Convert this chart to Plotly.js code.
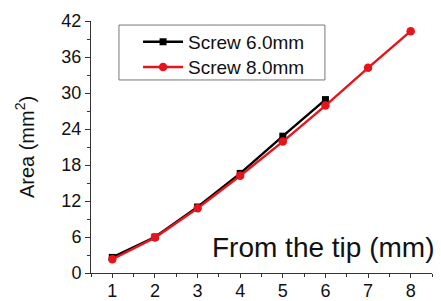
<!DOCTYPE html>
<html>
<head>
<meta charset="utf-8">
<script src="https://cdn.plot.ly/plotly-3.0.1.min.js"></script>
<style>html,body{margin:0;padding:0;background:#fff;}#chart{width:441px;height:301px;}</style>
</head>
<body>
<div id="chart"></div>
<script>
const positions6 = [1, 2, 3, 4, 5, 6];
const screw6 = [2.6, 6.0, 11.0, 16.6, 22.8, 28.9];
const positions8 = [1, 2, 3, 4, 5, 6, 7, 8];
const screw8 = [2.3, 5.9, 10.8, 16.2, 21.9, 27.9, 34.2, 40.3];
const seriesNames = ["Screw 6.0mm", "Screw 8.0mm"];
const yTicks = [0, 6, 12, 18, 24, 30, 36, 42];
const xTicks = [1, 2, 3, 4, 5, 6, 7, 8];

const font = "Arial, 'Liberation Sans', sans-serif";
const traces = [
  {x: positions6, y: screw6, name: seriesNames[0], mode: "lines+markers", legend: "legend",
   line: {color: "#000000", width: 2.4}, marker: {symbol: "square", size: 7, color: "#000000"}},
  {x: positions8, y: screw8, name: seriesNames[1], mode: "lines+markers", legend: "legend2",
   line: {color: "#e8141b", width: 2.4}, marker: {symbol: "circle", size: 8.5, color: "#e8141b"}}
];
const axisCommon = {showgrid: false, zeroline: false, showline: true, linecolor: "#333", linewidth: 1,
  ticks: "outside", ticklen: 5, tickcolor: "#333", tickfont: {family: font, size: 18, color: "#111"}};
const legendCommon = {x: 0.138, xanchor: "left", yanchor: "middle", bgcolor: "rgba(255,255,255,0)",
  borderwidth: 0, font: {family: font, size: 19, color: "#111"}, itemwidth: 40};
const layout = {
  width: 441, height: 301,
  margin: {l: 91, r: 9, t: 21, b: 28},
  paper_bgcolor: "#fff", plot_bgcolor: "#fff",
  showlegend: true,
  legend: Object.assign({}, legendCommon, {y: 0.917}),
  legend2: Object.assign({}, legendCommon, {y: 0.817}),
  shapes: [{type: "rect", xref: "paper", yref: "paper", x0: 0.082, x1: 0.686, y0: 0.766, y1: 0.984,
    line: {color: "#777", width: 1}, fillcolor: "rgba(0,0,0,0)"}],
  xaxis: Object.assign({}, axisCommon, {range: [0.5, 8.5], tickvals: xTicks, ticktext: xTicks.map(String),
    ticklen: 4, ticklabelstandoff: -3,
    minor: {dtick: 0.5, tick0: 0.5, ticks: "outside", ticklen: 3, tickcolor: "#333"}}),
  yaxis: Object.assign({}, axisCommon, {range: [0, 42], tickvals: yTicks, ticktext: yTicks.map(String),
    minor: {dtick: 3, tick0: 0, ticks: "outside", ticklen: 3, tickcolor: "#333"},
    title: {text: "Area (mm<sup>2</sup>)", font: {family: font, size: 20, color: "#111"}, standoff: 21}}),
  annotations: [{text: "From the tip (mm)", xref: "paper", yref: "paper", x: 1.012, y: 0.03,
    xanchor: "right", yanchor: "bottom", showarrow: false, font: {family: font, size: 28, color: "#111"}}]
};
Plotly.newPlot("chart", traces, layout, {displayModeBar: false, staticPlot: true});
</script>
</body>
</html>
